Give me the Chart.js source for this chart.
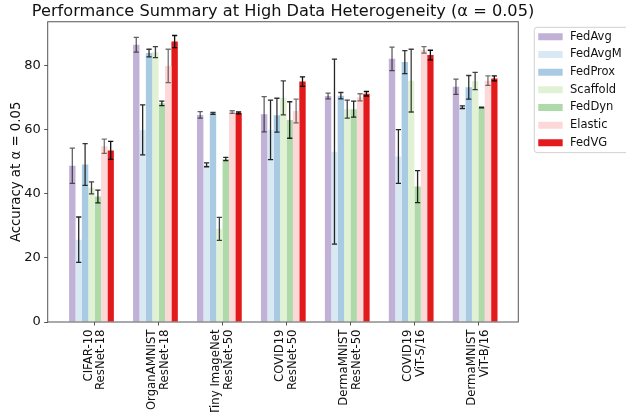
<!DOCTYPE html>
<html>
<head>
<meta charset="utf-8">
<script src="https://cdn.jsdelivr.net/npm/chart.js@4.4.1/dist/chart.umd.min.js"></script>
<style>
  html, body { margin: 0; padding: 0; background: #fff; }
  #wrap { width: 626px; height: 412px; }
</style>
</head>
<body>
<div id="wrap"><canvas id="c" width="626" height="412"></canvas></div>
<script>
// ---------------- data ----------------
const categories = [
  ['CIFAR-10', 'ResNet-18'],
  ['OrganAMNIST', 'ResNet-18'],
  ['Tiny ImageNet', 'ResNet-50'],
  ['COVID19', 'ResNet-50'],
  ['DermaMNIST', 'ResNet-50'],
  ['COVID19', 'ViT-S/16'],
  ['DermaMNIST', 'ViT-B/16']
];
const seriesNames = ['FedAvg', 'FedAvgM', 'FedProx', 'Scaffold', 'FedDyn', 'Elastic', 'FedVG'];

const fedAvg      = [48.8, 86.6, 64.7, 64.9, 70.6, 82.2, 73.5];
const fedAvgErr   = [5.5, 2.3, 1.0, 5.5, 0.9, 3.7, 2.4];
const fedAvgM     = [25.7, 60.0, 49.1, 60.0, 53.2, 51.7, 67.1];
const fedAvgMErr  = [7.1, 7.8, 0.6, 9.3, 28.9, 8.4, 0.4];
const fedProx     = [49.2, 84.0, 65.2, 64.6, 70.7, 81.2, 73.3];
const fedProxErr  = [6.5, 1.2, 0.3, 5.3, 1.0, 3.6, 3.7];
const scaffold    = [41.9, 84.3, 29.1, 70.0, 66.5, 75.4, 75.3];
const scaffoldErr = [1.9, 1.7, 3.6, 5.3, 2.8, 9.8, 2.7];
const fedDyn      = [39.2, 68.3, 50.9, 63.1, 66.5, 42.3, 67.0];
const fedDynErr   = [2.0, 0.7, 0.5, 5.7, 2.5, 5.0, 0.1];
const elastic     = [54.9, 80.0, 65.6, 65.9, 70.2, 85.0, 75.4];
const elasticErr  = [2.2, 5.2, 0.4, 3.7, 1.1, 1.0, 1.5];
const fedVG       = [53.6, 87.6, 65.3, 75.1, 71.3, 83.4, 76.1];
const fedVGErr    = [2.8, 1.9, 0.3, 1.5, 0.7, 1.5, 0.8];

const yTicks = [0, 20, 40, 60, 80];

// ---------------- styles ----------------
const seriesValues = [fedAvg, fedAvgM, fedProx, scaffold, fedDyn, elastic, fedVG];
const seriesErrors = [fedAvgErr, fedAvgMErr, fedProxErr, scaffoldErr, fedDynErr, elasticErr, fedVGErr];
const seriesColors = ['#c2b1d7', '#d9e9f3', '#a8cae2', '#e1f2d4', '#aed9a8', '#fdd8d8', '#e31a1c'];
const errColors = ['rgba(0,0,0,0.62)', 'rgba(0,0,0,0.85)', 'rgba(0,0,0,0.8)', 'rgba(0,0,0,0.75)', 'rgba(0,0,0,0.85)', 'rgba(0,0,0,0.55)', 'rgba(0,0,0,0.95)'];
const FONT = 'DejaVu Sans';

const datasets = seriesNames.map((name, s) => ({
  label: name,
  data: seriesValues[s].map((v, i) => ({ x: i, y: v })),
  errors: seriesErrors[s],
  errColor: errColors[s],
  backgroundColor: seriesColors[s],
  borderWidth: 0
}));
// empty slot so groups sit like the original (ticks between 4th and 5th bar)
datasets.push({ label: '__pad', data: categories.map((c, i) => ({ x: i, y: null })), backgroundColor: 'rgba(0,0,0,0)', borderWidth: 0 });

const errorBars = {
  id: 'errorBars',
  afterDatasetsDraw(chart) {
    const ctx = chart.ctx;
    const yS = chart.scales.y;
    chart.data.datasets.forEach((ds, d) => {
      if (!ds.errors) return;
      const meta = chart.getDatasetMeta(d);
      meta.data.forEach((bar, i) => {
        const v = ds.data[i].y, e = ds.errors[i];
        const x = bar.x;
        const y1 = yS.getPixelForValue(v + e), y2 = yS.getPixelForValue(v - e);
        ctx.save();
        ctx.strokeStyle = ds.errColor;
        ctx.lineWidth = 1.3;
        ctx.beginPath();
        ctx.moveTo(x, y1); ctx.lineTo(x, y2);
        ctx.moveTo(x - 2.6, y1); ctx.lineTo(x + 2.6, y1);
        ctx.moveTo(x - 2.6, y2); ctx.lineTo(x + 2.6, y2);
        ctx.stroke();
        ctx.restore();
      });
    });
  }
};

// widen the (axes-centred) title box so the text is not squeezed to the plot width
const titleSpan = {
  id: 'titleSpan',
  afterLayout(chart) {
    const t = chart.titleBlock, a = chart.chartArea;
    if (!t) return;
    t.left = a.left - 60;
    t.right = a.right + 60;
    t.width = t.right - t.left;
  }
};

const frame = {
  id: 'frame',
  afterDraw(chart) {
    const { ctx, chartArea: a } = chart;
    ctx.save();
    ctx.strokeStyle = '#555';
    ctx.lineWidth = 1;
    ctx.strokeRect(a.left, a.top, a.right - a.left, a.bottom - a.top);
    // legend frame
    const lg = chart.legend;
    if (lg && lg.legendHitBoxes && lg.legendHitBoxes.length) {
      const hb = lg.legendHitBoxes;
      const first = hb[0], last = hb[hb.length - 1];
      const x0 = first.left - 2.4, y0 = first.top - 3.75;
      const y1 = last.top + last.height + 4.1;
      const x1 = chart.width + 10, r = 3;
      ctx.strokeStyle = '#d0d0d0';
      ctx.beginPath();
      ctx.moveTo(x1, y0);
      ctx.lineTo(x0 + r, y0);
      ctx.arcTo(x0, y0, x0, y0 + r, r);
      ctx.lineTo(x0, y1 - r);
      ctx.arcTo(x0, y1, x0 + r, y1, r);
      ctx.lineTo(x1, y1);
      ctx.stroke();
    }
    ctx.restore();
  }
};

new Chart(document.getElementById('c'), {
  type: 'bar',
  data: { datasets },
  plugins: [errorBars, titleSpan, frame],
  options: {
    responsive: false,
    animation: false,
    devicePixelRatio: 1,
    layout: { padding: 0 },
    datasets: { bar: { categoryPercentage: 0.8, barPercentage: 1.0 } },
    scales: {
      x: {
        type: 'linear',
        min: -0.735, max: 6.625,
        offset: false,
        grid: { display: true, drawOnChartArea: false, drawTicks: true, tickLength: 3.5, color: '#555', offset: false },
        border: { display: false },
        afterBuildTicks: (s) => { s.ticks = categories.map((c, i) => ({ value: i })); },
        afterFit: (s) => { s.height = 90; },
        ticks: {
          autoSkip: false,
          minRotation: 90, maxRotation: 90,
          padding: 4,
          labelOffset: -6.2,
          color: '#111',
          font: { family: FONT, size: 11.7, lineHeight: 1.06 },
          callback: (v) => categories[v]
        }
      },
      y: {
        type: 'linear',
        min: 0, max: 93.8,
        grid: { display: true, drawOnChartArea: false, drawTicks: true, tickLength: 3.5, color: '#555' },
        border: { display: false },
        afterBuildTicks: (s) => { s.ticks = yTicks.map(v => ({ value: v })); },
        afterFit: (s) => { s.width = 47.7; },
        ticks: { padding: 3.5, color: '#111', font: { family: FONT, size: 13 } },
        title: { display: true, text: 'Accuracy at α = 0.05', color: '#111', font: { family: FONT, size: 13.3 }, padding: { top: 9, bottom: 0 } }
      },
      pad: {
        type: 'linear', axis: 'y', position: 'right', display: true,
        grid: { display: false }, border: { display: false }, ticks: { display: false },
        afterFit: (s) => { s.width = 12.2; }
      }
    },
    plugins: {
      title: {
        display: true,
        fullSize: false,
        text: 'Performance Summary at High Data Heterogeneity (α = 0.05)',
        color: '#111',
        font: { family: FONT, size: 16.2, weight: 'normal' },
        padding: { top: 2.3, bottom: 0 }
      },
      legend: {
        position: 'right',
        align: 'start',
        maxWidth: 95.5,
        title: { display: true, text: '', font: { family: FONT, size: 10, lineHeight: 1 }, padding: { top: 14.88, bottom: 0 } },
        labels: {
          font: { family: FONT, size: 11.5 },
          color: '#111',
          boxWidth: 27.6,
          boxHeight: 10.2,
          padding: 6.17,
          filter: (item) => item.text !== '__pad',
          generateLabels: (chart) => {
            const items = Chart.defaults.plugins.legend.labels.generateLabels(chart);
            items.forEach(it => { it.strokeStyle = '#ffffff'; it.lineWidth = 3.2; });
            return items;
          }
        }
      },
      tooltip: { enabled: false }
    }
  }
});
</script>
</body>
</html>
